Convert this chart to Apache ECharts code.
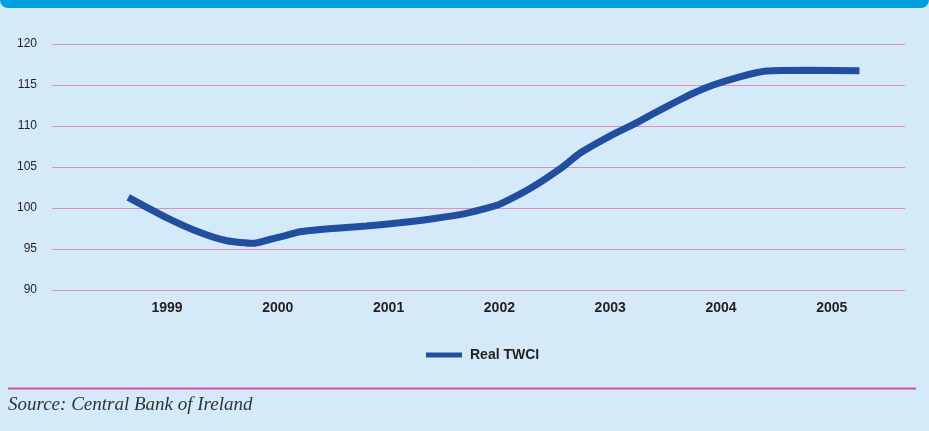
<!DOCTYPE html>
<html>
<head>
<meta charset="utf-8">
<script src="https://cdn.jsdelivr.net/npm/echarts@6/dist/echarts.min.js"></script>
<style>
html,body{margin:0;padding:0;background:#d4eaf8;}
#chart{width:929px;height:431px;}
</style>
</head>
<body>
<div id="chart"></div>
<script>
// Decimal year positions of the traced observations
var periods = [1999.15, 1999.50, 1999.80, 2000.04, 2000.28, 2000.41, 2000.56, 2000.70, 2001.00, 2001.30, 2001.60, 2001.90, 2002.20, 2002.42, 2002.51, 2002.78, 2003.05, 2003.23, 2003.53, 2003.71, 2003.89, 2004.13, 2004.25, 2004.43, 2004.67, 2004.91, 2005.30, 2005.75];
var realTWCI = [101.3, 98.8, 97.0, 96.0, 95.7, 96.1, 96.6, 97.1, 97.5, 97.8, 98.2, 98.7, 99.35, 100.1, 100.5, 102.4, 104.8, 106.7, 109.0, 110.2, 111.5, 113.2, 114.0, 115.0, 116.0, 116.7, 116.8, 116.75];
var yearLabels = ['1999', '2000', '2001', '2002', '2003', '2004', '2005'];
var yTicks = [90, 95, 100, 105, 110, 115, 120];
var seriesName = 'Real TWCI';
var sourceText = 'Source: Central Bank of Ireland';

var lineData = periods.map(function (p, i) { return [p, realTWCI[i]]; });
var labelPositions = yearLabels.map(function (y) { return Number(y) + 0.5; });

var chart = echarts.init(document.getElementById('chart'));
chart.setOption({
  backgroundColor: '#d4eaf8',
  animation: false,
  grid: { left: 52, right: 24, top: 44, bottom: 141 },
  xAxis: {
    type: 'value',
    min: 1998.462,
    max: 2006.161,
    axisLine: { show: false },
    axisTick: { show: false },
    splitLine: { show: false },
    axisLabel: {
      customValues: labelPositions,
      formatter: function (v) { return String(Math.floor(v)); },
      margin: 11,
      color: '#231f20',
      fontFamily: 'Liberation Sans, Arial, sans-serif',
      fontWeight: 'bold',
      fontSize: 14
    }
  },
  yAxis: {
    type: 'value',
    min: yTicks[0],
    max: yTicks[yTicks.length - 1],
    interval: 5,
    axisLine: { show: false },
    axisTick: { show: false },
    splitLine: { show: true, lineStyle: { color: '#e48bc4', width: 1 } },
    axisLabel: {
      margin: 15,
      color: '#231f20',
      fontFamily: 'Liberation Sans Narrow, Liberation Sans, Arial, sans-serif',
      fontSize: 12,
      padding: [0, 0, 8, 0]
    }
  },
  legend: {
    left: 421,
    top: 343,
    itemWidth: 36,
    itemHeight: 5,
    icon: 'rect',
    data: [seriesName],
    textStyle: {
      color: '#231f20',
      fontFamily: 'Liberation Sans, Arial, sans-serif',
      fontWeight: 'bold',
      fontSize: 14,
      padding: [0, 0, 0, 3]
    }
  },
  graphic: [
    { type: 'rect', left: 0, top: 0, shape: { width: 929, height: 8, r: [0, 0, 9, 9] }, style: { fill: '#009fdf' } },
    { type: 'line', shape: { x1: 8, y1: 388.5, x2: 916, y2: 388.5 }, style: { stroke: '#cc4fa0', lineWidth: 2 } },
    { type: 'text', left: 8, top: 395, style: { text: sourceText, fill: '#333333', font: 'italic 19px "Liberation Serif", serif' } }
  ],
  series: [{
    name: seriesName,
    type: 'line',
    data: lineData,
    showSymbol: false,
    smooth: 0.2,
    color: '#224ea0',
    lineStyle: { width: 7, color: '#224ea0', cap: 'butt' }
  }]
});
</script>
</body>
</html>
